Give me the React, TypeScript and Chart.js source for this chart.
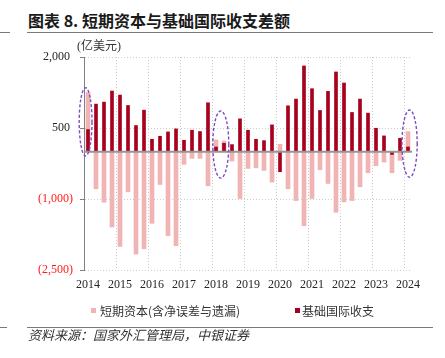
import React, { useEffect, useRef } from 'react';
import { Chart, registerables } from 'chart.js';

Chart.register(...registerables);

// ---- Data (亿美元, quarterly) ----
const quarters = [
  '2014Q1', '2014Q2', '2014Q3', '2014Q4',
  '2015Q1', '2015Q2', '2015Q3', '2015Q4',
  '2016Q1', '2016Q2', '2016Q3', '2016Q4',
  '2017Q1', '2017Q2', '2017Q3', '2017Q4',
  '2018Q1', '2018Q2', '2018Q3', '2018Q4',
  '2019Q1', '2019Q2', '2019Q3', '2019Q4',
  '2020Q1', '2020Q2', '2020Q3', '2020Q4',
  '2021Q1', '2021Q2', '2021Q3', '2021Q4',
  '2022Q1', '2022Q2', '2022Q3', '2022Q4',
  '2023Q1', '2023Q2', '2023Q3', '2023Q4',
  '2024Q1',
];

const shortTermCapital = [
  1250, -785, -1068, -1592,
  -2002, -849, -2165, -2052,
  -1514, -693, -1776, -1988,
  -269, -142, -142, -722,
  248, 226, -198, -990,
  -354, -340, -396, -644,
  156, -785, -1033, -1564,
  -990, -382, -672, -1281,
  -1061, -1033, -743, -446,
  -297, -219, -446, -184,
  425,
];

const basicBalance = [
  467, 1005, 1047, 1281,
  1196, 976, 552, 877,
  262, 325, 417, 481,
  241, 453, 425, 1033,
  99, 177, 149, 693,
  453, 262, 233, 566,
  -424, 969, 1111, 1811,
  1330, 870, 1274, 1684,
  1450, 828, 1111, 814,
  495, 333, -57, 283,
  99,
];

const yTickValues = [-2500, -1000, 500, 2000];

const seriesNames = ['短期资本(含净误差与遗漏)', '基础国际收支'];

// highlighted periods (category index centre / half-width in categories, value range)
const highlightCenter = [-0.3, 16.6, 40.2];
const highlightHalfWidth = [0.8, 1.0, 0.95];
const highlightTop = [1350, 860, 880];
const highlightBottom = [-90, -560, -540];

const LIGHT = '#f0b4b4';
const DARK = '#a8001f';

const overlayPlugin = {
  id: 'overlay',
  afterDatasetsDraw(chart: any) {
    const { ctx, chartArea, scales } = chart;
    const x = scales.x;
    const y = scales.y;
    // zero line
    const y0 = y.getPixelForValue(0);
    ctx.save();
    ctx.strokeStyle = '#969696';
    ctx.lineWidth = 2;
    ctx.beginPath();
    ctx.moveTo(chartArea.left, y0);
    ctx.lineTo(chartArea.right, y0);
    ctx.stroke();
    // dashed ellipses
    ctx.strokeStyle = '#7b4cc4';
    ctx.lineWidth = 1.4;
    ctx.setLineDash([3, 2]);
    for (let i = 0; i < highlightCenter.length; i++) {
      const cx = x.getPixelForValue(highlightCenter[i]);
      const rx = Math.abs(
        x.getPixelForValue(highlightCenter[i] + highlightHalfWidth[i]) - cx
      );
      const yt = y.getPixelForValue(highlightTop[i]);
      const yb = y.getPixelForValue(highlightBottom[i]);
      ctx.beginPath();
      ctx.ellipse(cx, (yt + yb) / 2, rx, Math.abs(yb - yt) / 2, 0, 0, Math.PI * 2);
      ctx.stroke();
    }
    ctx.restore();
  },
  afterDraw(chart: any) {
    const { ctx, chartArea } = chart;
    ctx.save();
    ctx.fillStyle = '#333333';
    ctx.font = '12px "Liberation Serif", "Noto Sans CJK SC", serif';
    ctx.textAlign = 'left';
    ctx.textBaseline = 'middle';
    ctx.fillText('(亿美元)', chartArea.left - 7, chartArea.top - 10);
    ctx.restore();
  },
};

export default function App() {
  const canvasRef = useRef<HTMLCanvasElement | null>(null);

  useEffect(() => {
    document.body.style.margin = '0';
    const canvas = canvasRef.current;
    if (!canvas) return;
    const chart = new Chart(canvas, {
      type: 'bar',
      data: {
        labels: quarters,
        datasets: [
          {
            label: seriesNames[0],
            data: shortTermCapital,
            backgroundColor: LIGHT,
            borderWidth: 0,
            barThickness: 4,
            grouped: false,
            order: 1,
          },
          {
            label: seriesNames[1],
            data: basicBalance,
            backgroundColor: DARK,
            borderWidth: 0,
            barThickness: 3,
            grouped: false,
            order: 0,
          },
        ],
      },
      options: {
        responsive: false,
        animation: false,
        devicePixelRatio: 1,
        layout: { padding: { top: 57, right: 33, bottom: 58, left: 0 } },
        plugins: {
          legend: { display: false },
          tooltip: { enabled: false },
          title: { display: false },
        },
        scales: {
          x: {
            type: 'category',
            offset: true,
            afterFit: (scale: any) => {
              scale.height = 30;
            },
            grid: {
              offset: true,
              drawTicks: false,
              lineWidth: 1,
              color: (ctx: any) =>
                ctx.index % 4 === 0 && ctx.index !== 0 ? '#cccccc' : 'rgba(0,0,0,0)',
            },
            border: { display: false, dash: [1, 2] },
            ticks: {
              autoSkip: false,
              maxRotation: 0,
              minRotation: 0,
              padding: 8,
              color: '#262626',
              font: { family: '"Liberation Serif", serif', size: 12 },
              callback: (_v: any, i: number) =>
                i % 4 === 0 ? quarters[i].slice(0, 4) : '',
            },
          },
          y: {
            type: 'linear',
            min: -2500,
            max: 2000,
            afterFit: (scale: any) => {
              scale.width = 84;
            },
            afterBuildTicks: (scale: any) => {
              scale.ticks = yTickValues.map((v) => ({ value: v }));
            },
            grid: {
              color: '#cccccc',
              lineWidth: 1,
              drawTicks: true,
              tickLength: 4,
              tickColor: '#808080',
              tickWidth: 1,
            },
            border: { display: true, color: '#808080', width: 1, dash: [1, 2] },
            ticks: {
              padding: 7,
              color: (ctx: any) =>
                ctx.tick && ctx.tick.value < 0 ? '#ff1a1a' : '#262626',
              font: { family: '"Liberation Serif", serif', size: 12 },
              callback: (v: any) => {
                const n = Number(v);
                const s = Math.abs(n).toLocaleString('en-US');
                return n < 0 ? `(${s})` : `${s} `;
              },
            },
          },
        },
      },
      plugins: [overlayPlugin],
    });
    return () => chart.destroy();
  }, []);

  const cjk = '"Noto Sans CJK SC", sans-serif';

  return (
    <div
      style={{
        position: 'fixed',
        left: 0,
        top: 0,
        width: 445,
        height: 358,
        background: '#ffffff',
        overflow: 'hidden',
      }}
    >
      <div
        style={{
          position: 'absolute',
          left: 28,
          top: 11,
          height: 18,
          lineHeight: '18px',
          fontFamily: cjk,
          fontWeight: 700,
          fontSize: 16,
          color: '#1a1a1a',
          whiteSpace: 'nowrap',
        }}
      >
        图表 8. 短期资本与基础国际收支差额
      </div>
      <div style={{ position: 'absolute', left: 0, top: 32, width: 10, height: 1, background: '#7a7a7a' }} />
      <div style={{ position: 'absolute', left: 27, top: 32, width: 406, height: 1, background: '#7a7a7a' }} />

      <canvas
        ref={canvasRef}
        width={445}
        height={358}
        style={{ position: 'absolute', left: 0, top: 0, width: 445, height: 358 }}
      />

      {/* legend */}
      <div
        style={{
          position: 'absolute',
          left: 91,
          top: 308,
          width: 5,
          height: 5,
          background: LIGHT,
        }}
      />
      <div
        style={{
          position: 'absolute',
          left: 100,
          top: 302,
          height: 17,
          lineHeight: '17px',
          fontFamily: cjk,
          fontSize: 12,
          color: '#333333',
          whiteSpace: 'nowrap',
        }}
      >
        {seriesNames[0]}
      </div>
      <div
        style={{
          position: 'absolute',
          left: 295,
          top: 308,
          width: 5,
          height: 5,
          background: DARK,
        }}
      />
      <div
        style={{
          position: 'absolute',
          left: 302,
          top: 302,
          height: 17,
          lineHeight: '17px',
          fontFamily: cjk,
          fontSize: 12,
          color: '#333333',
          whiteSpace: 'nowrap',
        }}
      >
        {seriesNames[1]}
      </div>

      <div style={{ position: 'absolute', left: 0, top: 327, width: 7, height: 1, background: '#7a7a7a' }} />
      <div style={{ position: 'absolute', left: 27, top: 327, width: 406, height: 1, background: '#7a7a7a' }} />
      <div
        style={{
          position: 'absolute',
          left: 28,
          top: 326,
          height: 17,
          lineHeight: '17px',
          fontFamily: cjk,
          fontStyle: 'italic',
          fontSize: 13,
          color: '#333333',
          whiteSpace: 'nowrap',
        }}
      >
        资料来源：国家外汇管理局，中银证券
      </div>
    </div>
  );
}
